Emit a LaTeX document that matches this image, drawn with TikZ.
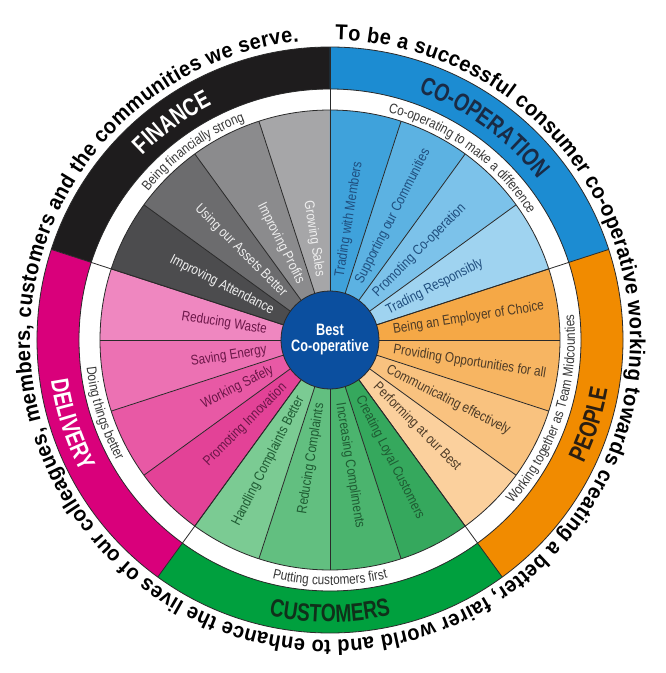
\documentclass[tikz,border=0pt]{standalone}
\usepackage{fontspec}
\setmainfont{Liberation Sans}
\newfontfamily\condreg[FakeStretch=0.84]{Liberation Sans}
\newfontfamily\condbld[FakeStretch=0.77]{Liberation Sans Bold}
\newfontfamily\mottobld[FakeStretch=0.93]{Liberation Sans Bold}
\usetikzlibrary{decorations.text}
\newcommand\segfnt{\condreg\fontsize{14pt}{16pt}\selectfont}
\newcommand\bandfnt{\condbld\fontsize{25pt}{25pt}\selectfont}
\newcommand\mottofnt{\mottobld\fontsize{21.5pt}{21.5pt}\selectfont}
\newcommand\ctrfnt{\condbld\fontsize{16.5pt}{16pt}\selectfont}
\definecolor{finband}{HTML}{1E1C1D}
\definecolor{gsC}{HTML}{A6A6A8}
\definecolor{ipC}{HTML}{8B8B8D}
\definecolor{uaC}{HTML}{6C6C6E}
\definecolor{iaC}{HTML}{4C4C4E}
\definecolor{coband}{HTML}{1C8CD2}
\definecolor{tmC}{HTML}{3FA2DB}
\definecolor{scC}{HTML}{5CB2E2}
\definecolor{pcC}{HTML}{7CC2EA}
\definecolor{trC}{HTML}{9FD3F0}
\definecolor{peband}{HTML}{F18B00}
\definecolor{beC}{HTML}{F5A846}
\definecolor{poC}{HTML}{F7B562}
\definecolor{ceC}{HTML}{F9C27F}
\definecolor{pbC}{HTML}{FBD09D}
\definecolor{cuband}{HTML}{00A03E}
\definecolor{hcC}{HTML}{7BCB93}
\definecolor{rcC}{HTML}{62BF80}
\definecolor{icC}{HTML}{4BB46E}
\definecolor{clC}{HTML}{35A85D}
\definecolor{deband}{HTML}{D9007B}
\definecolor{rwC}{HTML}{EF87C0}
\definecolor{seC}{HTML}{EC71B3}
\definecolor{wsC}{HTML}{E859A5}
\definecolor{piC}{HTML}{E34297}
\definecolor{ctrC}{HTML}{0B4F9F}
\definecolor{lineC}{HTML}{2A2A2A}
\definecolor{finT}{HTML}{EFEFEF}
\definecolor{coT}{HTML}{1F4E7E}
\definecolor{peT}{HTML}{4D3B27}
\definecolor{cuT}{HTML}{1E5B32}
\definecolor{deT}{HTML}{6B1648}
\definecolor{ringT}{HTML}{383838}
\definecolor{coBT}{HTML}{1A2B45}
\definecolor{peBT}{HTML}{2A1E12}
\definecolor{cuBT}{HTML}{10301A}
\begin{document}
\begin{tikzpicture}[x=1pt,y=1pt,
  segline/.style={draw=lineC, line width=0.8pt},
  segtext/.style={font=\segfnt, inner sep=0pt},
  rtext/.style={segtext, anchor=west},
  ltext/.style={segtext, anchor=east}]
\useasboundingbox (-330,-333) rectangle (336,340);
\fill[white] (-330,-333) rectangle (336,340);
% inner segments
\foreach \a/\fc in {99/gsC,117/ipC,135/uaC,153/iaC,81/tmC,63/scC,45/pcC,27/trC,
  9/beC,-9/poC,-27/ceC,-45/pbC,-63/clC,-81/icC,-99/rcC,-117/hcC,
  225/piC,207/wsC,189/seC,171/rwC}{
  \fill[\fc] (0,0) -- ({\a-9}:230pt) arc[start angle={\a-9}, end angle={\a+9}, radius=230pt] -- cycle;
}
\foreach \a in {0,18,...,342}{\draw[segline] (0,0) -- (\a:230pt);}
% outer bands
\foreach \s/\e/\fc in {90/162/finband,18/90/coband,-54/18/peband,234/306/cuband,162/234/deband}{
  \fill[\fc] (\s:251pt) arc[start angle=\s, end angle=\e, radius=251pt] -- (\e:293pt)
    arc[start angle=\e, end angle=\s, radius=293pt] -- cycle;
}
\draw[segline] (0,0) circle[radius=230pt];
\draw[segline] (0,0) circle[radius=251pt];
\draw[segline] (0,0) circle[radius=293pt];
\foreach \a in {18,90,162,234,306}{\draw[segline] (\a:45pt) -- (\a:293pt);}
% centre
\node[circle, fill=ctrC, draw=lineC, line width=0.8pt, minimum size=98pt, inner sep=0pt,
  text=white, font=\ctrfnt, align=center] (ctr) at (0,0) {Best\\Co-operative};
% segment labels, right half
\foreach \a/\tc/\t [count=\i] in {81/coT/Trading with Members,63/coT/Supporting our Communities,
  45/coT/Promoting Co-operation,27/coT/Trading Responsibly,
  9/peT/Being an Employer of Choice,-9/peT/Providing Opportunities for all,
  -27/peT/Communicating effectively,-45/peT/Performing at our Best,
  -63/cuT/Creating Loyal Customers,-81/cuT/Increasing Compliments}{
  \node[rtext, text=\tc, rotate=\a] (segR\i) at (\a:64pt) {\t};
}
% segment labels, left half
\foreach \a/\tc/\t [count=\i] in {99/finT/Growing Sales,117/finT/Improving Profits,
  135/finT/Using our Assets Better,153/finT/Improving Attendance,
  171/deT/Reducing Waste,189/deT/Saving Energy,207/deT/Working Safely,225/deT/Promoting Innovation,
  243/cuT/Handling Complaints Better,261/cuT/Reducing Complaints}{
  \node[ltext, text=\tc, rotate={\a-180}] (segL\i) at (\a:64pt) {\t};
}
% white ring labels
\path[decorate, decoration={text along path, text color=ringT, text align=center,
  text={|\segfnt|Being financially strong}}]
  (165:235pt) arc[start angle=165, end angle=87, radius=235pt];
\path[decorate, decoration={text along path, text color=ringT, text align=center,
  text={|\segfnt|Co-operating to make a difference}}]
  (93:235pt) arc[start angle=93, end angle=15, radius=235pt];
\path[decorate, decoration={text along path, text color=ringT, text align=center,
  text={|\segfnt|Working together as Team Midcounties}}]
  (-57:245pt) arc[start angle=-57, end angle=21, radius=245pt];
\path[decorate, decoration={text along path, text color=ringT, text align=center,
  text={|\segfnt|Putting customers first}}]
  (231:245pt) arc[start angle=231, end angle=309, radius=245pt];
\path[decorate, decoration={text along path, text color=ringT, text align=center,
  text={|\segfnt|Doing things better}}]
  (159:245pt) arc[start angle=159, end angle=237, radius=245pt];
% band labels
\path[decorate, decoration={text along path, text color=white, text align=center,
  text={|\bandfnt|FINANCE}}]
  (162:263pt) arc[start angle=162, end angle=90, radius=263pt];
\path[decorate, decoration={text along path, text color=coBT, text align=center,
  text={|\bandfnt|CO-OPERATION}}]
  (90:263pt) arc[start angle=90, end angle=18, radius=263pt];
\path[decorate, decoration={text along path, text color=peBT, text align=center,
  text={|\bandfnt|PEOPLE}}]
  (-54:282pt) arc[start angle=-54, end angle=18, radius=282pt];
\path[decorate, decoration={text along path, text color=cuBT, text align=center,
  text={|\bandfnt|CUSTOMERS}}]
  (234:282pt) arc[start angle=234, end angle=306, radius=282pt];
\path[decorate, decoration={text along path, text color=white, text align=center,
  text={|\bandfnt|DELIVERY}}]
  (162:282pt) arc[start angle=162, end angle=234, radius=282pt];
% motto
\path[decorate, decoration={text along path, text color=black, text align=fit to path,
  text={|\mottofnt|To be a successful consumer co-operative working towards creating a better, fairer world and to enhance the lives of our colleagues, members, customers and the communities we serve.}}]
  (89:300pt) arc[start angle=89, end angle=-264, radius=300pt];
\end{tikzpicture}
\end{document}
